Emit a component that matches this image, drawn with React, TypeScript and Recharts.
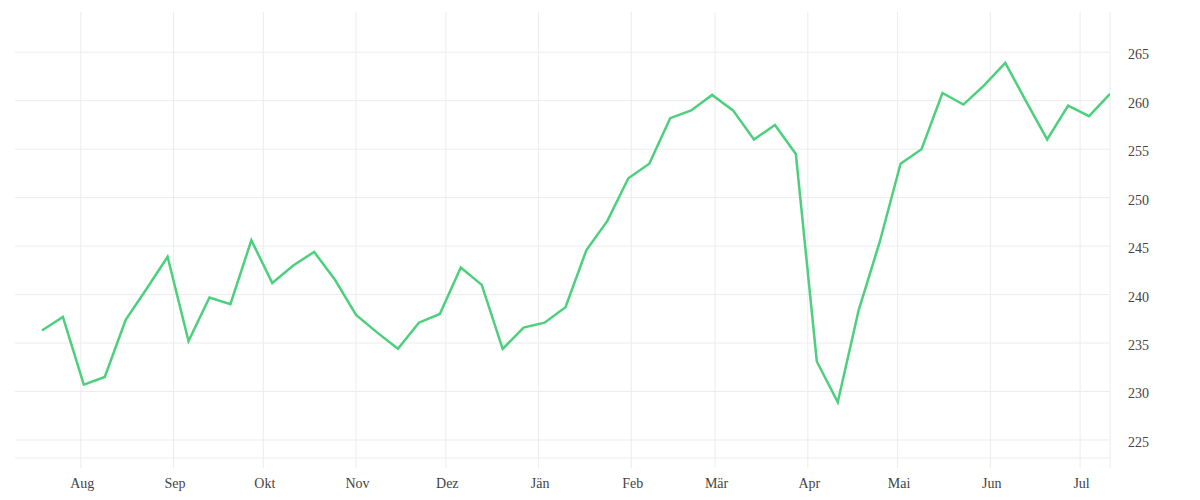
import React from 'react';
import { LineChart, Line, XAxis, YAxis, CartesianGrid } from 'recharts';

const dates = [
  '2022-07-19', '2022-07-26', '2022-08-02', '2022-08-09', '2022-08-16', '2022-08-23', '2022-08-30',
  '2022-09-06', '2022-09-13', '2022-09-20', '2022-09-27', '2022-10-04', '2022-10-11', '2022-10-18',
  '2022-10-25', '2022-11-01', '2022-11-08', '2022-11-15', '2022-11-22', '2022-11-29', '2022-12-06',
  '2022-12-13', '2022-12-20', '2022-12-27', '2023-01-03', '2023-01-10', '2023-01-17', '2023-01-24',
  '2023-01-31', '2023-02-07', '2023-02-14', '2023-02-21', '2023-02-28', '2023-03-07', '2023-03-14',
  '2023-03-21', '2023-03-28', '2023-04-04', '2023-04-11', '2023-04-18', '2023-04-25', '2023-05-02',
  '2023-05-09', '2023-05-16', '2023-05-23', '2023-05-30', '2023-06-06', '2023-06-13', '2023-06-20',
  '2023-06-27', '2023-07-04', '2023-07-11',
];

const prices = [
  236.3, 237.7, 230.7, 231.5, 237.4, 240.6, 243.9, 235.2, 239.7, 239.0,
  245.6, 241.2, 243.0, 244.4, 241.5, 237.9, 236.1, 234.4, 237.1, 238.0,
  242.8, 241.0, 234.4, 236.6, 237.1, 238.7, 244.6, 247.6, 252.0, 253.5,
  258.2, 259.0, 260.6, 259.0, 256.0, 257.5, 254.5, 233.1, 228.9, 238.4,
  245.4, 253.5, 255.0, 260.8, 259.6, 261.6, 263.9, 259.9, 256.0, 259.5,
  258.4, 260.7,
];

const monthTickDates = [
  '2022-08-01', '2022-09-01', '2022-10-01', '2022-11-01', '2022-12-01', '2023-01-01',
  '2023-02-01', '2023-03-01', '2023-04-01', '2023-05-01', '2023-06-01', '2023-07-01',
];
const monthLabels = ['Aug', 'Sep', 'Okt', 'Nov', 'Dez', 'Jän', 'Feb', 'Mär', 'Apr', 'Mai', 'Jun', 'Jul'];

const yTicks = [225, 230, 235, 240, 245, 250, 255, 260, 265];
const yMin = 223.14;
const yMax = 269.15;
const domainStart = '2022-07-10';
const domainEnd = '2023-07-11';

const toDay = (s: string) => {
  const [y, m, d] = s.split('-').map(Number);
  return Date.UTC(y, m - 1, d) / 86400000;
};

const data = dates.map((d, i) => ({ t: toDay(d), v: prices[i] }));
const xTicks = [...monthTickDates.map(toDay), toDay(domainEnd)];
const labelMap = new Map<number, string>(monthTickDates.map((d, i) => [toDay(d), monthLabels[i]]));

const tickStyle = { fontFamily: 'Liberation Serif', fontSize: 14, fill: '#444' };

const YTick = (props: any) => {
  const { x, y, payload } = props;
  return (
    <text x={x} y={y + 2} dy="0.355em" textAnchor="start" {...tickStyle}>
      {payload.value}
    </text>
  );
};

const XTick = (props: any) => {
  const { x, y, payload } = props;
  return (
    <text x={x + 1.5} y={y} dy="0.71em" textAnchor="middle" {...tickStyle}>
      {labelMap.get(payload.value) ?? ''}
    </text>
  );
};

export default function App() {
  return (
    <div style={{ position: 'absolute', left: 0, top: 0, width: 1200, height: 500, background: '#fff' }}>
      <LineChart width={1200} height={500} data={data} margin={{ top: 12, left: 15, right: 30, bottom: 12 }}>
        <CartesianGrid stroke="#ececec" strokeWidth={1} syncWithTicks />
        <XAxis
          dataKey="t"
          type="number"
          domain={[toDay(domainStart), toDay(domainEnd)]}
          ticks={xTicks}
          interval={0}
          height={30}
          axisLine={{ stroke: '#ececec' }}
          tickLine={{ stroke: '#ececec' }}
          tickSize={10}
          tickMargin={10}
          tick={<XTick />}
          allowDataOverflow
        />
        <YAxis
          orientation="right"
          type="number"
          domain={[yMin, yMax]}
          ticks={yTicks}
          interval={0}
          width={60}
          axisLine={false}
          tickLine={false}
          tickSize={10}
          tickMargin={8}
          tick={<YTick />}
          allowDataOverflow
        />
        <Line
          type="linear"
          dataKey="v"
          stroke="#4dd07d"
          strokeWidth={2.5}
          dot={false}
          isAnimationActive={false}
        />
      </LineChart>
    </div>
  );
}
